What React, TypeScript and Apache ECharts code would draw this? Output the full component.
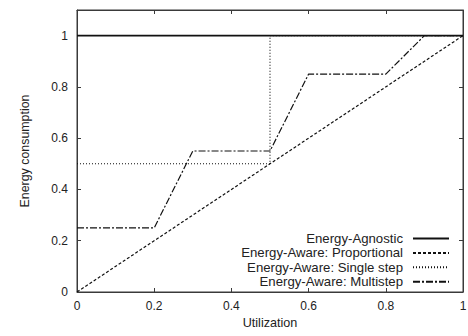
import React, { useEffect, useRef } from "react";
import * as echarts from "echarts";

const seriesNames = [
  "Energy-Agnostic",
  "Energy-Aware: Proportional",
  "Energy-Aware: Single step",
  "Energy-Aware: Multistep",
];
const agnostic: [number, number][] = [[0, 1], [1, 1]];
const proportional: [number, number][] = [[0, 0], [1, 1]];
const singleStep: [number, number][] = [[0, 0.5], [0.5, 0.5], [0.5, 1], [1, 1]];
const multistep: [number, number][] = [
  [0, 0.25], [0.2, 0.25], [0.3, 0.55], [0.5, 0.55], [0.6, 0.85], [0.8, 0.85], [0.9, 1], [1, 1],
];
const xTicks = [0, 0.2, 0.4, 0.6, 0.8, 1];
const yTicks = [0, 0.2, 0.4, 0.6, 0.8, 1];

const FONT = "Liberation Sans";
const INK = "#222";
const FRAME = "#3a3a3a";

export default function App() {
  const ref = useRef<HTMLDivElement>(null);
  useEffect(() => {
    if (!ref.current) return;
    const chart = echarts.init(ref.current, null, { renderer: "svg" });
    const lineTypes: any[] = ["solid", [3, 2], [1, 2], [7, 2, 2, 2]];
    const widths = [1.6, 1.2, 1.1, 1.2];
    const datas = [agnostic, proportional, singleStep, multistep];
    const axisLine = { show: true, onZero: false, lineStyle: { color: FRAME, width: 1 } };
    const axisTick = { show: true, inside: true, length: 4, lineStyle: { color: FRAME, width: 1 } };
    chart.setOption({
      animation: false,
      textStyle: { fontFamily: FONT },
      grid: {
        left: 77,
        right: 5,
        top: 10,
        bottom: 44,
        containLabel: false,
        outerBoundsMode: "none",
        show: true,
        borderColor: FRAME,
        borderWidth: 1,
        backgroundColor: "transparent",
      },
      legend: {
        orient: "vertical",
        right: 18,
        top: 232,
        padding: 0,
        align: "right",
        itemWidth: 36,
        itemHeight: 10,
        itemGap: 1.4,
        itemStyle: { opacity: 0 },
        textStyle: { fontFamily: FONT, fontSize: 13.2, color: INK, padding: [0, 5, 0, 0] },
        data: seriesNames,
      },
      xAxis: [
        {
          type: "value",
          gridIndex: 0,
          min: 0,
          max: 1,
          interval: 0.2,
          position: "bottom",
          name: "Utilization",
          nameLocation: "middle",
          nameGap: 21,
          nameTextStyle: { fontFamily: FONT, fontSize: 12.6, color: INK },
          axisLine,
          axisTick,
          splitLine: { show: false },
          axisLabel: {
            fontFamily: FONT,
            fontSize: 12,
            color: INK,
            margin: 8,
            showMaxLabel: true,
            formatter: (v: number) => {
              const r = Math.round(v * 10) / 10;
              return xTicks.includes(r) ? String(r) : "";
            },
          },
        },
        {
          type: "value",
          gridIndex: 0,
          min: 0,
          max: 1,
          interval: 0.2,
          position: "top",
          axisLine,
          axisTick,
          splitLine: { show: false },
          axisLabel: { show: false },
        },
      ],
      yAxis: [
        {
          type: "value",
          gridIndex: 0,
          min: 0,
          max: 1.1,
          interval: 0.2,
          position: "left",
          name: "Energy consumption",
          nameLocation: "middle",
          nameGap: 46,
          nameTextStyle: { fontFamily: FONT, fontSize: 12.4, color: INK },
          axisLine,
          axisTick,
          splitLine: { show: false },
          axisLabel: {
            fontFamily: FONT,
            fontSize: 12,
            color: INK,
            margin: 9,
            formatter: (v: number) => {
              const r = Math.round(v * 10) / 10;
              return yTicks.includes(r) ? String(r) : "";
            },
          },
        },
        {
          type: "value",
          gridIndex: 0,
          min: 0,
          max: 1.1,
          interval: 0.2,
          position: "right",
          axisLine,
          axisTick,
          splitLine: { show: false },
          axisLabel: { show: false },
        },
      ],
      series: seriesNames.map((name, i) => ({
        name,
        type: "line",
        data: datas[i],
        symbol: "none",
        showSymbol: false,
        lineStyle: { color: "#111", width: widths[i], type: lineTypes[i] },
        itemStyle: { color: "#111" },
        z: 10 - i,
      })),
    });
    return () => chart.dispose();
  }, []);
  return (
    <div
      ref={ref}
      style={{ position: "absolute", left: 0, top: 0, width: 468, height: 336 }}
    />
  );
}
